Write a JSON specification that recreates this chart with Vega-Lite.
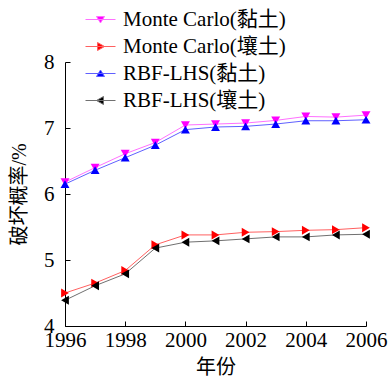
{
  "$schema": "https://vega.github.io/schema/vega-lite/v6.json",
  "autosize": {"type": "none"},
  "padding": {"left": 65, "top": 62, "right": 23, "bottom": 53},
  "width": 301,
  "height": 264,
  "background": "white",
  "config": {
    "view": {"stroke": null},
    "font": "Liberation Serif",
    "axis": {
      "grid": false,
      "domainColor": "#000000",
      "tickColor": "#000000",
      "labelColor": "#000000",
      "titleColor": "#000000",
      "labelFont": "Liberation Serif",
      "labelFontSize": 21,
      "titleFont": "Liberation Serif",
      "titleFontSize": 20,
      "titleFontWeight": "normal",
      "tickSize": -5
    }
  },
  "datasets": {
    "d": [
      {"year": 1996, "series": "Monte Carlo(黏土)", "value": 6.18},
      {"year": 1997, "series": "Monte Carlo(黏土)", "value": 6.40},
      {"year": 1998, "series": "Monte Carlo(黏土)", "value": 6.61},
      {"year": 1999, "series": "Monte Carlo(黏土)", "value": 6.78},
      {"year": 2000, "series": "Monte Carlo(黏土)", "value": 7.045},
      {"year": 2001, "series": "Monte Carlo(黏土)", "value": 7.06},
      {"year": 2002, "series": "Monte Carlo(黏土)", "value": 7.075},
      {"year": 2003, "series": "Monte Carlo(黏土)", "value": 7.115},
      {"year": 2004, "series": "Monte Carlo(黏土)", "value": 7.175},
      {"year": 2005, "series": "Monte Carlo(黏土)", "value": 7.165},
      {"year": 2006, "series": "Monte Carlo(黏土)", "value": 7.195},
      {"year": 1996, "series": "Monte Carlo(壤土)", "value": 4.5},
      {"year": 1997, "series": "Monte Carlo(壤土)", "value": 4.65},
      {"year": 1998, "series": "Monte Carlo(壤土)", "value": 4.84},
      {"year": 1999, "series": "Monte Carlo(壤土)", "value": 5.23},
      {"year": 2000, "series": "Monte Carlo(壤土)", "value": 5.38},
      {"year": 2001, "series": "Monte Carlo(壤土)", "value": 5.38},
      {"year": 2002, "series": "Monte Carlo(壤土)", "value": 5.42},
      {"year": 2003, "series": "Monte Carlo(壤土)", "value": 5.43},
      {"year": 2004, "series": "Monte Carlo(壤土)", "value": 5.45},
      {"year": 2005, "series": "Monte Carlo(壤土)", "value": 5.46},
      {"year": 2006, "series": "Monte Carlo(壤土)", "value": 5.49},
      {"year": 1996, "series": "RBF-LHS(黏土)", "value": 6.15},
      {"year": 1997, "series": "RBF-LHS(黏土)", "value": 6.36},
      {"year": 1998, "series": "RBF-LHS(黏土)", "value": 6.55},
      {"year": 1999, "series": "RBF-LHS(黏土)", "value": 6.74},
      {"year": 2000, "series": "RBF-LHS(黏土)", "value": 6.975},
      {"year": 2001, "series": "RBF-LHS(黏土)", "value": 7.015},
      {"year": 2002, "series": "RBF-LHS(黏土)", "value": 7.025},
      {"year": 2003, "series": "RBF-LHS(黏土)", "value": 7.06},
      {"year": 2004, "series": "RBF-LHS(黏土)", "value": 7.11},
      {"year": 2005, "series": "RBF-LHS(黏土)", "value": 7.11},
      {"year": 2006, "series": "RBF-LHS(黏土)", "value": 7.125},
      {"year": 1996, "series": "RBF-LHS(壤土)", "value": 4.39},
      {"year": 1997, "series": "RBF-LHS(壤土)", "value": 4.61},
      {"year": 1998, "series": "RBF-LHS(壤土)", "value": 4.79},
      {"year": 1999, "series": "RBF-LHS(壤土)", "value": 5.18},
      {"year": 2000, "series": "RBF-LHS(壤土)", "value": 5.27},
      {"year": 2001, "series": "RBF-LHS(壤土)", "value": 5.29},
      {"year": 2002, "series": "RBF-LHS(壤土)", "value": 5.32},
      {"year": 2003, "series": "RBF-LHS(壤土)", "value": 5.35},
      {"year": 2004, "series": "RBF-LHS(壤土)", "value": 5.35},
      {"year": 2005, "series": "RBF-LHS(壤土)", "value": 5.38},
      {"year": 2006, "series": "RBF-LHS(壤土)", "value": 5.39}
    ]
  },
  "data": {"name": "d"},
  "encoding": {
    "x": {
      "field": "year",
      "type": "quantitative",
      "title": "年份",
      "scale": {"domain": [1996, 2006], "nice": false, "zero": false},
      "axis": {"values": [1996, 1998, 2000, 2002, 2004, 2006], "format": "d", "labelPadding": 8, "titlePadding": 7, "labelFlush": false, "labelFont": "Liberation Serif", "titleFont": "Liberation Serif, Noto Sans CJK SC"}
    },
    "y": {
      "field": "value",
      "type": "quantitative",
      "title": "破坏概率/%",
      "scale": {"domain": [4, 8], "nice": false, "zero": false},
      "axis": {"values": [4, 5, 6, 7, 8], "labelPadding": 16, "titlePadding": 14, "labelFont": "Liberation Serif", "titleFont": "Liberation Serif, Noto Sans CJK SC"}
    }
  },
  "layer": [
    {
      "mark": {"type": "line", "strokeWidth": 1},
      "encoding": {
        "stroke": {
          "field": "series",
          "type": "nominal",
          "scale": {
            "domain": ["Monte Carlo(黏土)", "Monte Carlo(壤土)", "RBF-LHS(黏土)", "RBF-LHS(壤土)"],
            "range": ["#ff70ff", "#ff6060", "#6060ff", "#707070"]
          },
          "legend": {
            "title": null,
            "orient": "none",
            "legendX": 25,
            "legendY": -53,
            "padding": 0,
            "symbolSize": 400,
            "symbolStrokeWidth": 1,
            "labelFont": "Liberation Serif, Noto Sans CJK SC",
            "labelFontSize": 21,
            "labelColor": "#000000",
            "labelOffset": 12,
            "rowPadding": 5,
            "labelLimit": 300,
            "encode": {
              "symbols": {
                "update": {
                  "shape": {"signal": "datum.value == 'Monte Carlo(黏土)' ? 'M-1.5,0H1.5M-0.4,-0.3L0.4,-0.3L0,0.35Z' : datum.value == 'Monte Carlo(壤土)' ? 'M-1.5,0H1.5M-0.3,-0.4L-0.3,0.4L0.4,0Z' : datum.value == 'RBF-LHS(黏土)' ? 'M-1.5,0H1.5M-0.4,0.3L0.4,0.3L0,-0.35Z' : 'M-1.5,0H1.5M0.3,-0.4L0.3,0.4L-0.4,0Z'"},
                  "fill": {"signal": "datum.value == 'Monte Carlo(黏土)' ? '#ff00ff' : datum.value == 'Monte Carlo(壤土)' ? '#ff0000' : datum.value == 'RBF-LHS(黏土)' ? '#0000ff' : '#000000'"},
                  "fillOpacity": {"value": 1},
                  "opacity": {"value": 1}
                }
              }
            }
          }
        }
      }
    },
    {
      "transform": [{"filter": "datum.series == 'Monte Carlo(黏土)'"}],
      "mark": {"type": "point", "shape": "triangle-down", "filled": true, "size": 80, "opacity": 1, "color": "#ff00ff"}
    },
    {
      "transform": [{"filter": "datum.series == 'Monte Carlo(壤土)'"}],
      "mark": {"type": "point", "shape": "triangle-right", "filled": true, "size": 80, "opacity": 1, "color": "#ff0000"}
    },
    {
      "transform": [{"filter": "datum.series == 'RBF-LHS(黏土)'"}],
      "mark": {"type": "point", "shape": "triangle-up", "filled": true, "size": 80, "opacity": 1, "color": "#0000ff"}
    },
    {
      "transform": [{"filter": "datum.series == 'RBF-LHS(壤土)'"}],
      "mark": {"type": "point", "shape": "triangle-left", "filled": true, "size": 80, "opacity": 1, "color": "#000000"}
    }
  ]
}
